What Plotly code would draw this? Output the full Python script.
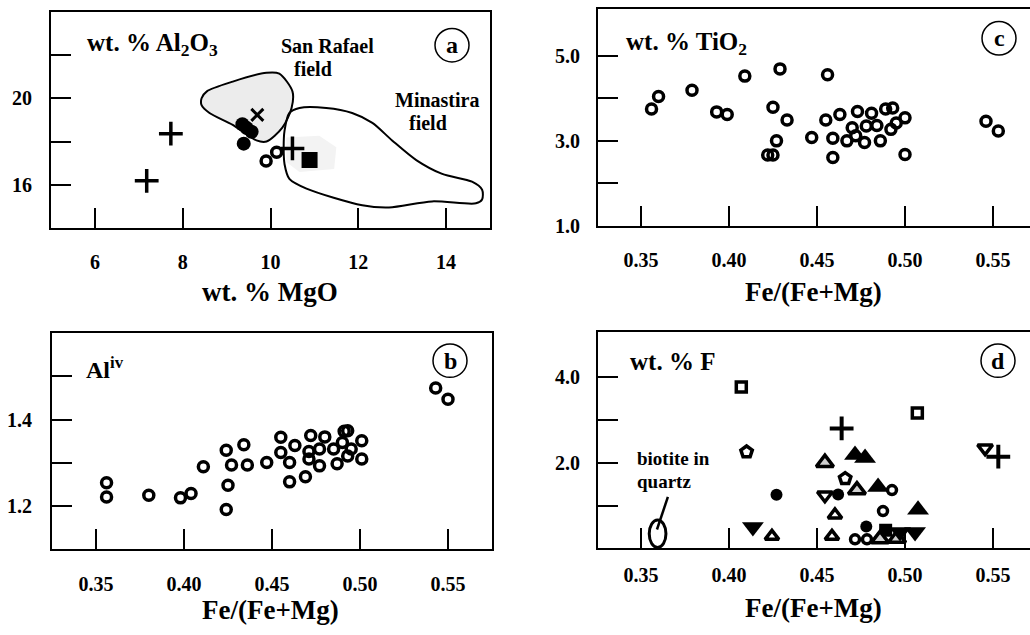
import plotly.graph_objects as go

W, H = 1030, 635

# ---------------- Panel a data (wt.% MgO vs wt.% Al2O3) ----------------
a_plus_x = [7.73, 7.18, 10.5]
a_plus_y = [18.36, 16.18, 17.68]
a_x_x = [9.70]
a_x_y = [19.23]
a_fcirc_x = [9.36, 9.46, 9.57, 9.39]
a_fcirc_y = [18.80, 18.62, 18.45, 17.90]
a_ocirc_x = [10.14, 9.90]
a_ocirc_y = [17.50, 17.10]
a_fsq_x = [10.89]
a_fsq_y = [17.14]
sanrafael_x = [8.43, 8.55, 9.14, 9.91, 10.2, 10.5, 10.48, 10.27, 9.91, 9.68, 9.14, 8.61, 8.43, 8.43]
sanrafael_y = [20.0, 20.32, 20.77, 21.18, 21.14, 20.32, 19.55, 18.64, 18.0, 18.05, 18.77, 19.32, 19.68, 20.0]
minastira_x = [10.32, 10.43, 10.66, 11.27, 11.86, 12.32, 12.77, 13.32, 13.91, 14.59, 14.82, 14.82,
               14.68, 13.68, 12.70, 12.09, 10.82, 10.43, 10.32, 10.30, 10.32]
minastira_y = [18.5, 19.32, 19.55, 19.55, 19.32, 18.86, 18.05, 17.14, 16.5, 16.14, 15.77, 15.32,
               15.14, 15.23, 14.95, 15.05, 15.82, 16.27, 16.95, 17.73, 18.5]
shade_x = [10.36, 11.11, 11.5, 11.45, 10.66, 10.36, 10.36]
shade_y = [18.18, 18.27, 17.73, 16.73, 16.59, 17.05, 18.18]

# ---------------- Panel b data (Fe/(Fe+Mg) vs Al iv) ----------------
b_x = [0.356, 0.356, 0.380, 0.398, 0.404, 0.411, 0.424, 0.425, 0.424, 0.427, 0.434, 0.436,
       0.447, 0.455, 0.455, 0.460, 0.460, 0.463, 0.469, 0.471, 0.472, 0.471, 0.477, 0.477,
       0.480, 0.485, 0.487, 0.490, 0.491, 0.493, 0.493, 0.495, 0.501, 0.501, 0.543, 0.550]
b_y = [1.254, 1.221, 1.225, 1.219, 1.229, 1.291, 1.192, 1.248, 1.329, 1.295, 1.342, 1.295,
       1.301, 1.359, 1.324, 1.301, 1.256, 1.340, 1.268, 1.309, 1.363, 1.326, 1.332, 1.293,
       1.360, 1.332, 1.298, 1.347, 1.373, 1.374, 1.316, 1.332, 1.351, 1.309, 1.473, 1.447]

# ---------------- Panel c data (Fe/(Fe+Mg) vs wt.% TiO2) ----------------
c_x = [0.356, 0.360, 0.379, 0.393, 0.399, 0.409, 0.425, 0.429, 0.433, 0.427, 0.422, 0.425,
       0.447, 0.455, 0.456, 0.459, 0.459, 0.463, 0.467, 0.470, 0.473, 0.472, 0.477, 0.478,
       0.481, 0.484, 0.486, 0.489, 0.493, 0.492, 0.495, 0.500, 0.500, 0.546, 0.553]
c_y = [3.75, 4.04, 4.19, 3.68, 3.62, 4.52, 3.79, 4.69, 3.49, 3.00, 2.67, 2.67,
       3.08, 3.49, 4.55, 3.06, 2.61, 3.62, 3.00, 3.31, 3.69, 3.12, 2.96, 3.35,
       3.65, 3.36, 3.00, 3.75, 3.77, 3.27, 3.42, 3.54, 2.68, 3.46, 3.23]

# ---------------- Panel d data (Fe/(Fe+Mg) vs wt.% F) ----------------
d_osq_x = [0.407, 0.507]
d_osq_y = [3.77, 3.16]
d_plus_x = [0.464, 0.553]
d_plus_y = [2.80, 2.14]
d_pent_x = [0.410, 0.466]
d_pent_y = [2.25, 1.63]
d_fcirc_x = [0.427, 0.462, 0.478]
d_fcirc_y = [1.25, 1.26, 0.51]
d_fsq_x = [0.489]
d_fsq_y = [0.42]
d_gtri_x = [0.4545, 0.4727, 0.4858, 0.4955]
d_gtri_y = [2.00, 1.36, 0.22, 0.23]
d_ftri_x = [0.4716, 0.4773, 0.4847, 0.5074]
d_ftri_y = [2.18, 2.11, 1.43, 0.90]
d_otri_x = [0.4602, 0.4585, 0.4244]
d_otri_y = [0.78, 0.28, 0.28]
d_otrid_x = [0.4545, 0.5455]
d_otrid_y = [1.24, 2.34]
d_ftrid_x = [0.4136, 0.4972, 0.5057]
d_ftrid_y = [0.50, 0.38, 0.38]
d_ocirc_x = [0.4926, 0.4875, 0.4716, 0.4784]
d_ocirc_y = [1.36, 0.87, 0.21, 0.21]
biotite_x0, biotite_x1 = 0.3547, 0.3642
biotite_y0, biotite_y1 = 0.02, 0.66

# ticks
fe_ticks = [0.35, 0.40, 0.45, 0.50, 0.55]
fe_labels = ["0.35", "0.40", "0.45", "0.50", "0.55"]
mgo_ticks = [6, 8, 10, 12, 14]
mgo_labels = ["6", "8", "10", "12", "14"]
al_ticks = [16, 18, 20, 22]
al_labels = ["16", " ", "20", " "]
aliv_ticks = [1.2, 1.3, 1.4, 1.5]
aliv_labels = ["1.2", " ", "1.4", " "]
ti_ticks = [1, 2, 3, 4, 5]
ti_labels = ["1.0", " ", "3.0", " ", "5.0"]
f_ticks = [1, 2, 3, 4]
f_labels = [" ", "2.0", " ", "4.0"]

FONT = "'Liberation Serif', 'Times New Roman', Times, 'DejaVu Serif', serif"


def px(p):
    return p / W


def py(p):
    return 1 - p / H


def b(t):
    return "<b>" + t + "</b>" if t.strip() else t


fig = go.Figure()

BLACK = "black"
CLEAR = "rgba(255,255,255,0)"


def add(x, y, xa, ya, symbol, size, color=BLACK, lw=0, lc=BLACK, name=""):
    fig.add_trace(go.Scatter(
        x=x, y=y, mode="markers", xaxis=xa, yaxis=ya, name=name, showlegend=False,
        marker=dict(symbol=symbol, size=size, color=color, line=dict(width=lw, color=lc))))


# Panel a fields
fig.add_trace(go.Scatter(x=shade_x, y=shade_y, xaxis="x", yaxis="y", mode="lines", fill="toself",
                         fillcolor="#f3f3f3", line=dict(width=0), showlegend=False, hoverinfo="skip"))
fig.add_trace(go.Scatter(x=sanrafael_x, y=sanrafael_y, xaxis="x", yaxis="y", mode="lines", fill="toself",
                         fillcolor="#ececec", line=dict(color=BLACK, width=2, shape="spline", smoothing=0.8),
                         showlegend=False, name="San Rafael field"))
fig.add_trace(go.Scatter(x=minastira_x, y=minastira_y, xaxis="x", yaxis="y", mode="lines",
                         line=dict(color=BLACK, width=2, shape="spline", smoothing=0.8),
                         showlegend=False, name="Minastira field"))
add(a_plus_x, a_plus_y, "x", "y", "cross-thin", 17, lw=3.5)
add(a_x_x, a_x_y, "x", "y", "x-thin", 12, lw=3)
add(a_fcirc_x, a_fcirc_y, "x", "y", "circle", 14)
add(a_ocirc_x, a_ocirc_y, "x", "y", "circle", 10, color=CLEAR, lw=3.5)
add(a_fsq_x, a_fsq_y, "x", "y", "square", 16)

# Panel b
add(b_x, b_y, "x2", "y2", "circle", 10, color=CLEAR, lw=3.5)

# Panel c
add(c_x, c_y, "x3", "y3", "circle", 10, color=CLEAR, lw=3.5)

# Panel d
add(d_osq_x, d_osq_y, "x4", "y4", "square", 10, color=CLEAR, lw=3.5)
add(d_plus_x, d_plus_y, "x4", "y4", "cross-thin", 17, lw=4)
add(d_pent_x, d_pent_y, "x4", "y4", "pentagon", 12, color=CLEAR, lw=3.5)
add(d_fcirc_x, d_fcirc_y, "x4", "y4", "circle", 12)
add(d_fsq_x, d_fsq_y, "x4", "y4", "square", 13)
add(d_gtri_x, d_gtri_y, "x4", "y4", "triangle-up", 15, color="#d0d0d0", lw=3.5)
add(d_ftri_x, d_ftri_y, "x4", "y4", "triangle-up", 19)
add(d_otri_x, d_otri_y, "x4", "y4", "triangle-up", 12, color=CLEAR, lw=3.5)
add(d_otrid_x, d_otrid_y, "x4", "y4", "triangle-down", 13, color=CLEAR, lw=3.5)
add(d_ftrid_x, d_ftrid_y, "x4", "y4", "triangle-down", 19)
add(d_ocirc_x, d_ocirc_y, "x4", "y4", "circle", 9, color=CLEAR, lw=3.5)


def xaxis(domain, rng, ticks, labels, anchor, standoff):
    return dict(domain=domain, range=rng, tickvals=ticks, ticktext=[b(t) for t in labels],
                ticks="inside", ticklen=20, tickwidth=2, tickcolor=BLACK,
                showline=True, linewidth=2, linecolor=BLACK, mirror=True,
                showgrid=False, zeroline=False, anchor=anchor,
                tickfont=dict(family=FONT, size=20, color=BLACK), ticklabelstandoff=standoff)


def yaxis(domain, rng, ticks, labels, anchor, standoff, mirror=True):
    return dict(domain=domain, range=rng, tickvals=ticks, ticktext=[b(t) for t in labels],
                ticks="inside", ticklen=20, tickwidth=2, tickcolor=BLACK,
                showline=True, linewidth=2, linecolor=BLACK, mirror=mirror,
                showgrid=False, zeroline=False, anchor=anchor,
                tickfont=dict(family=FONT, size=20, color=BLACK), ticklabelstandoff=standoff)


fig.update_layout(
    width=W, height=H, margin=dict(l=0, r=0, t=0, b=0),
    paper_bgcolor="white", plot_bgcolor="white",
    font=dict(family=FONT, color=BLACK),
    xaxis=xaxis([px(51), px(490)], [5.0, 15.0], mgo_ticks, mgo_labels, "y", 15),
    yaxis=yaxis([py(232), py(12)], [14, 24], al_ticks, al_labels, "x", 13),
    xaxis2=xaxis([px(52), px(492)], [0.325, 0.575], fe_ticks, fe_labels, "y2", 16),
    yaxis2=yaxis([py(559), py(339)], [1.1, 1.6], aliv_ticks, aliv_labels, "x2", 14),
    xaxis3=xaxis([px(598), 1.0], [0.3256, 0.571], fe_ticks, fe_labels, "y3", 15),
    yaxis3=yaxis([py(230), py(9)], [1.0, 6.1], ti_ticks, ti_labels, "x3", 12, mirror=False),
    xaxis4=xaxis([px(598), 1.0], [0.3256, 0.571], fe_ticks, fe_labels, "y4", 8),
    yaxis4=yaxis([py(558), py(338)], [0, 5.05], f_ticks, f_labels, "x4", 12, mirror=False),
)


def ann(text, x, y, size, xanchor="center"):
    fig.add_annotation(text=text, x=px(x), y=py(y), xref="paper", yref="paper",
                       showarrow=False, xanchor=xanchor, yanchor="middle",
                       font=dict(family=FONT, size=size, color=BLACK))


# axis titles
ann("<b>wt. % MgO</b>", 270, 297, 27)
ann("<b>Fe/(Fe+Mg)</b>", 270, 621, 27)
ann("<b>Fe/(Fe+Mg)</b>", 813, 297, 27)
ann("<b>Fe/(Fe+Mg)</b>", 813, 619, 27)

# panel labels
ann("<b>wt. % Al<sub>2</sub>O<sub>3</sub></b>", 85, 45, 25, "left")
ann("<b>San Rafael</b>", 327, 47, 20)
ann("<b>field</b>", 313, 70, 20)
ann("<b>Minastira</b>", 437, 102, 20)
ann("<b>field</b>", 428, 125, 20)
ann("<b>Al<sup>iv</sup></b>", 84, 374, 24, "left")
ann("<b>wt. % TiO<sub>2</sub></b>", 624, 44, 25, "left")
ann("<b>wt. % F</b>", 628, 368, 25, "left")
ann("<b>biotite in</b>", 635, 467, 19, "left")
ann("<b>quartz</b>", 635, 490, 19, "left")

# circled letters
for letter, cx, cy in [("a", 452, 46), ("b", 450, 367), ("c", 999, 39), ("d", 998, 367)]:
    r = 17
    fig.add_shape(type="circle", xref="paper", yref="paper",
                  x0=px(cx - r), x1=px(cx + r), y0=py(cy + r), y1=py(cy - r),
                  line=dict(color=BLACK, width=1.5))
    ann("<b>" + letter + "</b>", cx, cy, 24)

# biotite in quartz ellipse and pointer
fig.add_shape(type="circle", xref="x4", yref="y4", x0=biotite_x0, x1=biotite_x1,
              y0=biotite_y0, y1=biotite_y1, line=dict(color=BLACK, width=3))
fig.add_shape(type="line", xref="x4", yref="y4", x0=0.3653, y0=1.2, x1=0.3591, y1=0.44,
              line=dict(color=BLACK, width=2.5))

page_fix = (
    "document.documentElement.style.margin='0px';"
    "document.documentElement.style.padding='0px';"
    "document.documentElement.style.overflow='hidden';"
    "document.body.style.margin='0px';"
    "document.body.style.padding='0px';"
    "document.body.style.overflow='hidden';"
)

fig.write_html("out.html", config={"displayModeBar": False}, post_script=page_fix)
